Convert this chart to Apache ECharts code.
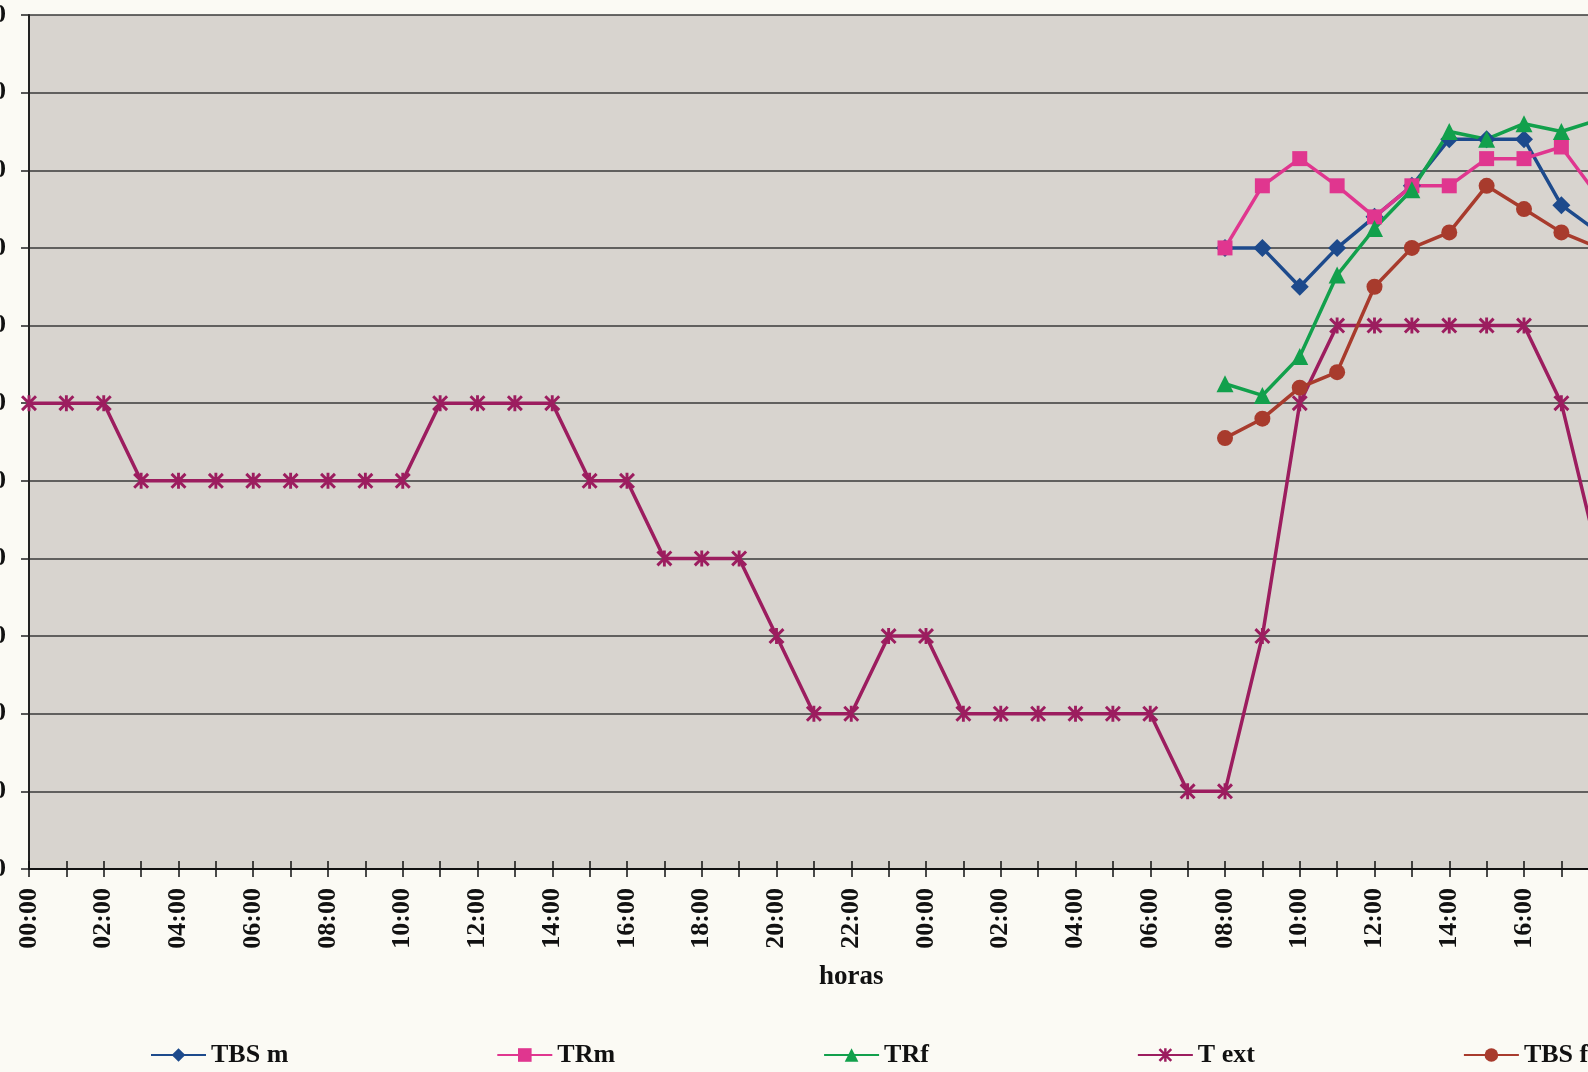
<!DOCTYPE html>
<html>
<head>
<meta charset="utf-8">
<script src="https://cdn.jsdelivr.net/npm/echarts@6/dist/echarts.min.js"></script>
<style>
  html, body { margin: 0; padding: 0; background: #fbfaf4; }
  #chart { width: 1588px; height: 1072px; }
</style>
</head>
<body>
<div id="chart"></div>
<script>
// Two days of hourly readings (00:00 day 1 .. 23:00 day 2)
const hours = [];
for (let d = 0; d < 2; d++) {
  for (let h = 0; h < 24; h++) hours.push((h < 10 ? '0' : '') + h + ':00');
}

// Outdoor temperature, hourly from 00:00 of day 1
const tExt = [22, 22, 22, 20, 20, 20, 20, 20, 20, 20, 20, 22, 22, 22, 22, 20, 20, 18, 18, 18, 16, 14, 14, 16,
              16, 14, 14, 14, 14, 14, 14, 12, 12, 16, 22, 24, 24, 24, 24, 24, 24, 22, 18];

// Indoor measurements, hourly from 08:00 of day 2
const startIndex = 32;
const tbsM = [26.0, 26.0, 25.0, 26.0, 26.8, 27.6, 28.8, 28.8, 28.8, 27.1, 26.4];
const trM  = [26.0, 27.6, 28.3, 27.6, 26.8, 27.6, 27.6, 28.3, 28.3, 28.6, 27.3];
const trF  = [22.5, 22.2, 23.2, 25.3, 26.5, 27.5, 29.0, 28.8, 29.2, 29.0, 29.3];
const tbsF = [21.1, 21.6, 22.4, 22.8, 25.0, 26.0, 26.4, 27.6, 27.0, 26.4, 26.0];

// Y axis scale
const yMin = 10, yMax = 32, yStep = 2;

function placeAt(values, offset) {
  const out = new Array(hours.length).fill(null);
  values.forEach((v, i) => { out[offset + i] = v; });
  return out;
}

// star marker: an X crossed by a vertical bar
const asterisk = 'path://M8.2 0 L11.8 0 L11.8 20 L8.2 20 Z M2.6 0 L20 17.4 L17.4 20 L0 2.6 Z M17.4 0 L20 2.6 L2.6 20 L0 17.4 Z';

const fontFamily = '"Liberation Serif", "Times New Roman", serif';
const step = 37.375;

function lineSeries(name, data, color, symbol, size) {
  return {
    name: name,
    type: 'line',
    data: data,
    connectNulls: false,
    symbol: symbol,
    symbolSize: size,
    showAllSymbol: true,
    lineStyle: { color: color, width: 3.5 },
    itemStyle: { color: color, borderWidth: 0 },
    emphasis: { disabled: true },
    animation: false
  };
}

const chart = echarts.init(document.getElementById('chart'), null, { renderer: 'canvas' });
chart.setOption({
  backgroundColor: '#fbfaf4',
  animation: false,
  title: {
    text: 'horas',
    left: 819,
    top: 964,
    padding: 0,
    textStyle: { fontFamily: fontFamily, fontWeight: 'bold', fontSize: 27, color: '#111' }
  },
  legend: {
    left: 150,
    top: 1042,
    width: 1700,
    padding: 0,
    itemGap: 208,
    itemWidth: 55,
    itemHeight: 17,
    textStyle: { fontFamily: fontFamily, fontWeight: 'bold', fontSize: 26, color: '#111' },
    data: ['TBS m', 'TRm', 'TRf', 'T ext', 'TBS f']
  },
  grid: {
    left: 29,
    top: 15,
    width: step * (hours.length - 1),
    height: 854,
    outerBoundsMode: 'none',
    containLabel: false,
    show: true,
    backgroundColor: '#d8d4cf',
    borderWidth: 0
  },
  xAxis: [{
    type: 'category',
    data: hours,
    boundaryGap: false,
    axisLine: { lineStyle: { color: '#111', width: 2 } },
    axisTick: { show: true, interval: 0, length: 8, lineStyle: { color: '#111', width: 1.5 } },
    axisLabel: {
      interval: 1,
      rotate: 90,
      margin: 19,
      fontFamily: fontFamily,
      fontWeight: 'bold',
      fontSize: 26,
      color: '#111'
    },
    splitLine: { show: false }
  }, {
    type: 'category',
    data: hours,
    boundaryGap: false,
    position: 'bottom',
    axisLine: { show: false },
    axisTick: { show: true, inside: true, interval: 0, length: 8, lineStyle: { color: '#111', width: 1.5 } },
    axisLabel: { show: false },
    splitLine: { show: false }
  }],
  yAxis: {
    type: 'value',
    min: yMin,
    max: yMax,
    interval: yStep,
    axisLine: { show: true, lineStyle: { color: '#222', width: 2 } },
    axisTick: { show: true, length: 8, lineStyle: { color: '#222', width: 1.5 } },
    axisLabel: {
      margin: 23,
      fontFamily: fontFamily,
      fontWeight: 'bold',
      fontSize: 26,
      color: '#111',
      formatter: v => v.toFixed(1).replace('.', ',')
    },
    splitLine: { show: true, lineStyle: { color: '#3a3a3a', width: 1.5 } }
  },
  series: [
    lineSeries('TBS m', placeAt(tbsM, startIndex), '#1d4a8c', 'diamond', 18),
    lineSeries('TRm', placeAt(trM, startIndex), '#e0368f', 'rect', 15),
    lineSeries('TRf', placeAt(trF, startIndex), '#12a04c', 'triangle', 17),
    lineSeries('T ext', placeAt(tExt, 0), '#9c1d5f', asterisk, 16),
    lineSeries('TBS f', placeAt(tbsF, startIndex), '#a83b2d', 'circle', 16)
  ]
});
</script>
</body>
</html>
